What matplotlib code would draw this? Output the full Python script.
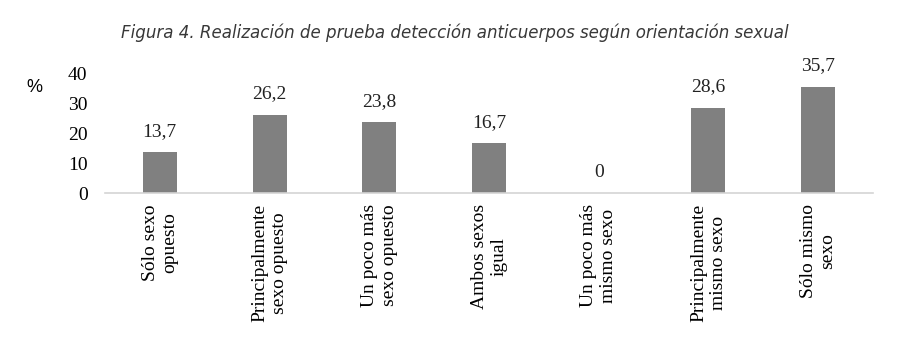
import matplotlib.pyplot as plt

# data
categories = ["Sólo sexo\nopuesto", "Principalmente\nsexo opuesto", "Un poco más\nsexo opuesto",
              "Ambos sexos\nigual", "Un poco más\nmismo sexo", "Principalmente\nmismo sexo",
              "Sólo mismo\nsexo"]
values = [13.7, 26.2, 23.8, 16.7, 0, 28.6, 35.7]
value_labels = ["13,7", "26,2", "23,8", "16,7", "0", "28,6", "35,7"]
yticks = [0, 10, 20, 30, 40]

serif = "Liberation Serif"

fig = plt.figure(figsize=(9.12, 3.52), dpi=100)
ax = fig.add_axes([0.1151, 0.4517, 0.8421, 0.3381])

x = range(len(categories))
bars = ax.bar(x, values, width=0.31, color="#808080")
for b, lab in zip(bars, value_labels):
    ax.annotate(lab, (b.get_x() + b.get_width() / 2, b.get_height()),
                xytext=(0, 9), textcoords="offset points",
                ha="center", va="bottom", fontsize=14, family=serif, color="#222222")

ax.set_xlim(-0.5, len(categories) - 0.5)
ax.set_ylim(0, 40)
ax.set_yticks(yticks)
ax.set_yticklabels([str(t) for t in yticks], family=serif, fontsize=14)
ax.set_xticks(list(x))
ax.set_xticklabels(categories, rotation=90, family=serif, fontsize=14,
                   multialignment="center")
ax.tick_params(axis="both", length=0)
ax.tick_params(axis="y", pad=12.5)
ax.tick_params(axis="x", pad=8)
for s in ["top", "right", "left"]:
    ax.spines[s].set_visible(False)
ax.spines["bottom"].set_color("#d4d4d4")
ax.spines["bottom"].set_linewidth(1.2)

fig.text(0.038, 0.752, "%", ha="center", va="center", fontsize=13, family="Liberation Sans")
fig.text(0.499, 0.908, "Figura 4. Realización de prueba detección anticuerpos según orientación sexual",
         ha="center", va="center", fontsize=13.3, style="italic", stretch="condensed",
         family="DejaVu Sans", color="#383838")

fig.savefig("out.png", dpi=100)
